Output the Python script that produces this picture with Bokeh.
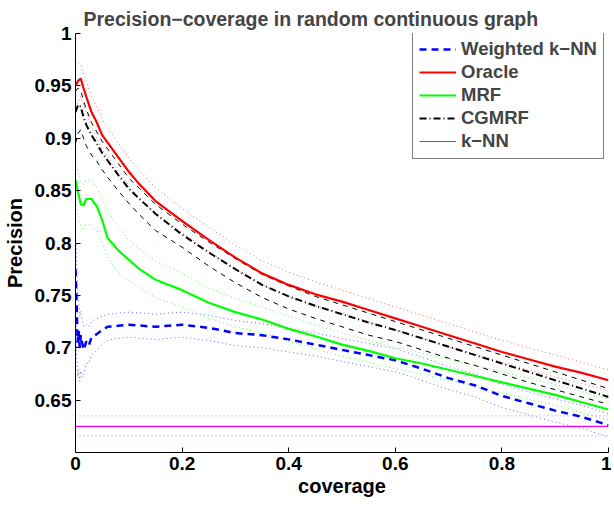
from bokeh.plotting import figure
from bokeh.models import FixedTicker, Legend, LegendItem
from bokeh.embed import file_html
from bokeh.resources import INLINE

# ---------------- data ----------------
X = [0, 0.005, 0.01, 0.015, 0.02, 0.03, 0.04, 0.05, 0.06, 0.08,
     0.1, 0.12, 0.15, 0.2, 0.25, 0.3, 0.35, 0.4, 0.45, 0.5,
     0.55, 0.6, 0.65, 0.7, 0.75, 0.8, 0.85, 0.9, 0.95, 1.0]

oracle = [0.950, 0.955, 0.957, 0.948, 0.940, 0.925, 0.915, 0.903, 0.896, 0.882,
          0.868, 0.856, 0.840, 0.821, 0.803, 0.786, 0.771, 0.760, 0.751, 0.744,
          0.736, 0.728, 0.720, 0.712, 0.704, 0.696, 0.689, 0.682, 0.676, 0.669]
oracle_hi = [0.975, 0.972, 0.970, 0.962, 0.955, 0.940, 0.930, 0.918, 0.910, 0.896,
             0.881, 0.869, 0.853, 0.833, 0.815, 0.798, 0.783, 0.772, 0.763, 0.755,
             0.747, 0.739, 0.731, 0.723, 0.715, 0.707, 0.700, 0.693, 0.686, 0.679]
oracle_lo = [0.925, 0.935, 0.940, 0.932, 0.925, 0.910, 0.900, 0.889, 0.883, 0.869,
             0.855, 0.843, 0.828, 0.810, 0.792, 0.775, 0.760, 0.749, 0.740, 0.733,
             0.725, 0.717, 0.709, 0.701, 0.694, 0.686, 0.679, 0.672, 0.666, 0.659]

mrf = [0.860, 0.848, 0.837, 0.836, 0.842, 0.842, 0.835, 0.822, 0.805, 0.793,
       0.784, 0.775, 0.765, 0.755, 0.743, 0.734, 0.727, 0.718, 0.711, 0.703,
       0.697, 0.690, 0.685, 0.679, 0.673, 0.667, 0.661, 0.655, 0.648, 0.641]
mrf_hi = [0.878, 0.868, 0.858, 0.856, 0.860, 0.860, 0.853, 0.842, 0.830, 0.815,
          0.803, 0.794, 0.783, 0.771, 0.757, 0.747, 0.739, 0.730, 0.722, 0.714,
          0.707, 0.700, 0.695, 0.689, 0.683, 0.677, 0.671, 0.665, 0.658, 0.651]
mrf_lo = [0.840, 0.826, 0.815, 0.812, 0.818, 0.818, 0.812, 0.800, 0.786, 0.772,
          0.764, 0.757, 0.748, 0.739, 0.728, 0.720, 0.714, 0.706, 0.699, 0.692,
          0.686, 0.680, 0.675, 0.669, 0.663, 0.657, 0.651, 0.645, 0.638, 0.631]

cgmrf = [0.925, 0.932, 0.930, 0.920, 0.913, 0.903, 0.895, 0.886, 0.879, 0.865,
         0.852, 0.842, 0.828, 0.808, 0.791, 0.775, 0.760, 0.749, 0.740, 0.732,
         0.724, 0.717, 0.709, 0.701, 0.693, 0.685, 0.677, 0.669, 0.661, 0.653]
cgmrf_hi = [0.945, 0.948, 0.945, 0.936, 0.928, 0.915, 0.906, 0.897, 0.890, 0.876,
            0.862, 0.852, 0.837, 0.818, 0.801, 0.785, 0.770, 0.759, 0.749, 0.741,
            0.733, 0.725, 0.717, 0.709, 0.701, 0.693, 0.685, 0.677, 0.669, 0.661]
cgmrf_lo = [0.895, 0.905, 0.908, 0.900, 0.893, 0.884, 0.878, 0.870, 0.863, 0.850,
            0.838, 0.827, 0.812, 0.796, 0.778, 0.762, 0.748, 0.737, 0.728, 0.720,
            0.712, 0.706, 0.698, 0.690, 0.683, 0.675, 0.667, 0.660, 0.653, 0.646]

XB = [0, 0.002, 0.004, 0.006, 0.008, 0.01, 0.013, 0.016, 0.02, 0.025,
      0.03, 0.04, 0.05, 0.06, 0.08, 0.1, 0.15, 0.2, 0.25, 0.3,
      0.35, 0.4, 0.45, 0.5, 0.55, 0.6, 0.65, 0.7, 0.75, 0.8,
      0.85, 0.9, 0.95, 1.0]
wknn = [0.775, 0.745, 0.705, 0.716, 0.700, 0.712, 0.703, 0.698, 0.706, 0.702,
        0.710, 0.713, 0.717, 0.720, 0.721, 0.722, 0.720, 0.722, 0.719, 0.714,
        0.712, 0.708, 0.703, 0.698, 0.693, 0.688, 0.680, 0.671, 0.664, 0.654,
        0.647, 0.640, 0.634, 0.626]
wknn_hi = [0.810, 0.790, 0.750, 0.745, 0.730, 0.735, 0.725, 0.720, 0.722, 0.720,
           0.725, 0.728, 0.730, 0.732, 0.733, 0.734, 0.732, 0.734, 0.731, 0.726,
           0.723, 0.719, 0.714, 0.709, 0.704, 0.699, 0.691, 0.682, 0.675, 0.665,
           0.658, 0.651, 0.645, 0.637]
wknn_lo = [0.740, 0.700, 0.672, 0.680, 0.668, 0.678, 0.672, 0.675, 0.685, 0.685,
           0.693, 0.698, 0.703, 0.707, 0.709, 0.710, 0.708, 0.710, 0.707, 0.702,
           0.700, 0.696, 0.692, 0.687, 0.682, 0.677, 0.669, 0.660, 0.653, 0.643,
           0.636, 0.629, 0.623, 0.615]

XK = [0, 1.0]
knn = [0.625, 0.625]
knn_hi = [0.635, 0.635]
knn_lo = [0.616, 0.616]

x_ticks = [0, 0.2, 0.4, 0.6, 0.8, 1.0]
x_tick_labels = ["0", "0.2", "0.4", "0.6", "0.8", "1"]
y_ticks = [0.65, 0.7, 0.75, 0.8, 0.85, 0.9, 0.95, 1.0]
y_tick_labels = ["0.65", "0.7", "0.75", "0.8", "0.85", "0.9", "0.95", "1"]

FONT = "Liberation Sans"

# ---------------- figure ----------------
p = figure(frame_width=533, frame_height=419, x_range=(0, 1), y_range=(0.6, 1.0),
           output_backend="svg", toolbar_location=None,
           min_border_left=68, min_border_right=3, min_border_top=33, min_border_bottom=45)

p.title.text = "Precision\u2212coverage in random continuous graph"
p.title.text_font = FONT
p.title.text_font_size = "19.5px"
p.title.text_font_style = "bold"
p.title.align = "left"
p.title.offset = 8
p.title.standoff = 8

p.outline_line_color = None
p.xgrid.visible = False
p.ygrid.visible = False
p.background_fill_color = "white"
p.border_fill_color = "white"

for ax, ticks, labels in ((p.xaxis[0], x_ticks, x_tick_labels), (p.yaxis[0], y_ticks, y_tick_labels)):
    ax.ticker = FixedTicker(ticks=ticks)
    ax.major_label_overrides = {t: l for t, l in zip(ticks, labels)}
    ax.major_tick_in = 5
    ax.major_tick_out = 0
    ax.minor_tick_line_color = None
    ax.axis_line_color = "black"
    ax.major_tick_line_color = "black"
    ax.major_label_text_font = FONT
    ax.major_label_text_font_size = "19px"
    ax.major_label_text_font_style = "bold"
    ax.major_label_text_color = "black"
    ax.major_label_standoff = 4
    ax.axis_label_text_font = FONT
    ax.axis_label_text_font_size = "20px"
    ax.axis_label_text_font_style = "bold"
    ax.axis_label_text_color = "black"

p.xaxis.axis_label = "coverage"
p.yaxis.axis_label = "Precision"
p.xaxis.axis_label_standoff = 2
p.yaxis.axis_label_standoff = 6

# bounds
DOT = "1 3"
p.line(XB, wknn_hi, line_color="blue", line_width=1, line_dash=DOT, line_alpha=0.6)
p.line(XB, wknn_lo, line_color="blue", line_width=1, line_dash=DOT, line_alpha=0.6)
p.line(X, oracle_hi, line_color="red", line_width=1, line_dash=DOT, line_alpha=0.6)
p.line(X, oracle_lo, line_color="red", line_width=1, line_dash=DOT, line_alpha=0.6)
p.line(X, mrf_hi, line_color="#00ff00", line_width=1, line_dash=DOT, line_alpha=0.7)
p.line(X, mrf_lo, line_color="#00ff00", line_width=1, line_dash=DOT, line_alpha=0.7)
p.line(X, cgmrf_hi, line_color="black", line_width=1, line_dash="5 5")
p.line(X, cgmrf_lo, line_color="black", line_width=1, line_dash="5 5")
p.line(XK, knn_hi, line_color="#ff00ff", line_width=1, line_dash=DOT, line_alpha=0.6)
p.line(XK, knn_lo, line_color="#ff00ff", line_width=1, line_dash=DOT, line_alpha=0.6)

# means
r_w = p.line(XB, wknn, line_color="blue", line_width=2.5, line_dash="7 5")
r_o = p.line(X, oracle, line_color="red", line_width=2.2)
r_m = p.line(X, mrf, line_color="#00ff00", line_width=2.2)
r_c = p.line(X, cgmrf, line_color="black", line_width=2, line_dash="7 3 1 3")
r_k = p.line(XK, knn, line_color="#ff00ff", line_width=1.2)

legend = Legend(items=[
    LegendItem(label="Weighted k\u2212NN", renderers=[r_w]),
    LegendItem(label="Oracle", renderers=[r_o]),
    LegendItem(label="MRF", renderers=[r_m]),
    LegendItem(label="CGMRF", renderers=[r_c]),
    LegendItem(label="k\u2212NN", renderers=[r_k]),
], location=(337, 293))
legend.margin = 0
legend.padding = 6
legend.spacing = 1
legend.glyph_width = 37
legend.glyph_height = 22
legend.label_standoff = 5
legend.label_height = 22
legend.label_text_font = FONT
legend.label_text_font_size = "18.5px"
legend.label_text_font_style = "bold"
legend.border_line_color = "black"
legend.border_line_width = 1
legend.background_fill_alpha = 1.0
p.add_layout(legend)

open("out.html", "w").write(file_html(p, INLINE))
